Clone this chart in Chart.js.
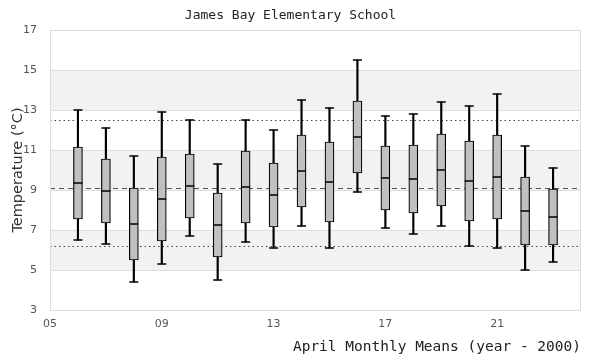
<!DOCTYPE html>
<html>
<head>
<meta charset="utf-8">
<script src="https://cdn.jsdelivr.net/npm/chart.js@4/dist/chart.umd.min.js"></script>
<style>
  html, body { margin: 0; padding: 0; background: #ffffff; }
  #wrap { width: 600px; height: 360px; }
</style>
</head>
<body>
<div id="wrap"><canvas id="c" width="600" height="360"></canvas></div>
<script>
// ---- data ----
const years       = [6, 7, 8, 9, 10, 11, 12, 13, 14, 15, 16, 17, 18, 19, 20, 21, 22, 23];
const whiskerLow  = [6.5, 6.3, 4.4, 5.3, 6.7, 4.5, 6.4, 6.1, 7.2, 6.1, 8.9, 7.1, 6.8, 7.2, 6.2, 6.1, 5.0, 5.4];
const quartile1   = [7.55, 7.35, 5.5, 6.45, 7.6, 5.65, 7.35, 7.15, 8.15, 7.4, 9.85, 8.0, 7.85, 8.2, 7.45, 7.55, 6.25, 6.25];
const medians     = [9.35, 8.95, 7.3, 8.55, 9.2, 7.25, 9.15, 8.75, 9.95, 9.4, 11.65, 9.6, 9.55, 10.0, 9.45, 9.65, 7.95, 7.65];
const quartile3   = [11.15, 10.55, 9.1, 10.65, 10.8, 8.85, 10.95, 10.35, 11.75, 11.4, 13.45, 11.2, 11.25, 11.8, 11.45, 11.75, 9.65, 9.05];
const whiskerHigh = [13.0, 12.1, 10.7, 12.9, 12.5, 10.3, 12.5, 12.0, 13.5, 13.1, 15.5, 12.7, 12.8, 13.4, 13.2, 13.8, 11.2, 10.1];
const upperRef    = 12.475;
const meanRef     = 9.075;
const lowerRef    = 6.175;
const xTickValues = [5, 9, 13, 17, 21];
const yTickValues = [3, 5, 7, 9, 11, 13, 15, 17];
const shadedBands = [[13, 15], [9, 11], [5, 7]];
const xRange      = [5, 24];
const yRange      = [3, 17];

// ---- build datasets ----
const boxData     = years.map((yr, i) => ({ x: yr, y: [quartile1[i], quartile3[i]] }));
const whiskerData = years.map((yr, i) => ({ x: yr, y: [whiskerLow[i], whiskerHigh[i]] }));
const capData     = years.flatMap((yr, i) => [{ x: yr, y: whiskerLow[i] }, { x: yr, y: whiskerHigh[i] }]);
const medianData  = years.map((yr, i) => ({ x: yr, y: medians[i] }));
const refLine = v => [{ x: xRange[0], y: v }, { x: xRange[1], y: v }];

const bandPlugin = {
  id: 'bands',
  beforeDraw(chart) {
    const { ctx, chartArea: a, scales: { y } } = chart;
    ctx.save();
    ctx.fillStyle = '#f2f2f2';
    shadedBands.forEach(([lo, hi]) => {
      const top = y.getPixelForValue(hi), bot = y.getPixelForValue(lo);
      ctx.fillRect(a.left, top, a.right - a.left, bot - top);
    });
    ctx.restore();
  },
  afterDraw(chart) {
    const { ctx, chartArea: a } = chart;
    ctx.save();
    ctx.strokeStyle = '#dddddd';
    ctx.lineWidth = 1;
    ctx.strokeRect(Math.round(a.left) + 0.5, Math.round(a.top) + 0.5,
                   Math.round(a.right - a.left) - 1, Math.round(a.bottom - a.top));
    ctx.restore();
  }
};

const mono = "'DejaVu Sans Mono', 'Liberation Mono', monospace";
const sans = "'DejaVu Sans', 'Liberation Sans', sans-serif";

new Chart(document.getElementById('c'), {
  type: 'bar',
  data: {
    datasets: [
      { type: 'line', data: refLine(upperRef), borderColor: '#444444', borderWidth: 1,
        borderDash: [1.5, 3], pointRadius: 0, order: 10 },
      { type: 'line', data: refLine(meanRef), borderColor: '#555555', borderWidth: 1.2,
        borderDash: [5, 4], pointRadius: 0, order: 10 },
      { type: 'line', data: refLine(lowerRef), borderColor: '#444444', borderWidth: 1,
        borderDash: [1.5, 3], pointRadius: 0, order: 10 },
      { type: 'bar', data: whiskerData, backgroundColor: '#000000', borderWidth: 0,
        barThickness: 1.5, grouped: false, order: 6 },
      { type: 'bar', data: boxData, backgroundColor: '#c0c0c0', borderColor: '#000000',
        borderWidth: 1.2, borderSkipped: false, barThickness: 9, grouped: false, order: 4 },
      { type: 'scatter', data: capData, pointStyle: 'line', radius: 4.5, borderColor: '#000000',
        borderWidth: 1.5, order: 2 },
      { type: 'scatter', data: medianData, pointStyle: 'line', radius: 4.5, borderColor: '#000000',
        borderWidth: 1.5, order: 1 }
    ]
  },
  options: {
    responsive: false,
    animation: false,
    events: [],
    layout: { padding: { left: 0, right: 19, top: 0, bottom: 0 } },
    plugins: {
      legend: { display: false },
      tooltip: { enabled: false },
      title: {
        display: true,
        text: 'James Bay Elementary School',
        color: '#222222',
        font: { family: mono, size: 13, weight: 'normal', lineHeight: 1 },
        padding: { top: 9, bottom: 8 }
      }
    },
    scales: {
      x: {
        type: 'linear',
        min: xRange[0], max: xRange[1],
        offset: false,
        afterBuildTicks: s => { s.ticks = xTickValues.map(v => ({ value: v })); },
        afterFit: s => { s.height = 50; },
        grid: { display: false, drawTicks: false },
        border: { display: false },
        ticks: {
          padding: 8,
          color: '#555555',
          font: { family: sans, size: 11 },
          callback: v => String(v).padStart(2, '0')
        },
        title: {
          display: true,
          text: 'April Monthly Means (year - 2000)',
          align: 'end',
          color: '#222222',
          font: { family: mono, size: 14.5, lineHeight: 1 },
          padding: { top: 0, bottom: 6 }
        }
      },
      y: {
        min: yRange[0], max: yRange[1],
        afterBuildTicks: s => { s.ticks = yTickValues.map(v => ({ value: v })); },
        afterFit: s => { s.width = 50; },
        grid: { color: '#dddddd', lineWidth: 1, drawTicks: false },
        border: { display: true, color: '#dddddd' },
        ticks: {
          padding: 13,
          color: '#555555',
          font: { family: sans, size: 11 }
        },
        title: {
          display: true,
          text: 'Temperature (°C)',
          color: '#333333',
          font: { family: sans, size: 14.5, lineHeight: 1 },
          padding: { top: 11, bottom: 0 }
        }
      }
    }
  },
  plugins: [bandPlugin]
});
</script>
</body>
</html>
